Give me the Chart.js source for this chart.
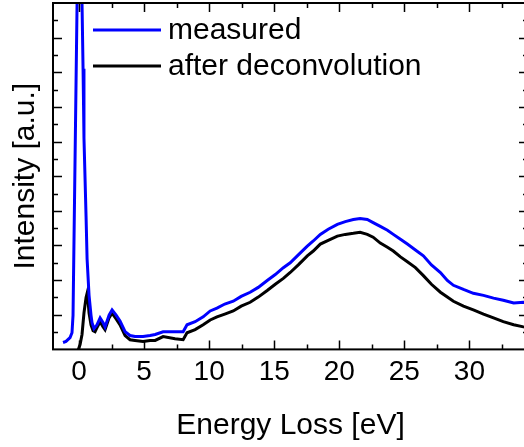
<!DOCTYPE html>
<html>
<head>
<meta charset="UTF-8">
<title>Energy loss spectrum</title>
<script src="https://cdn.jsdelivr.net/npm/chart.js"></script>
<style>
  html, body { margin: 0; padding: 0; background: #fff; overflow: hidden; }
  #wrap { width: 528px; height: 447px; }
</style>
</head>
<body>
<div id="wrap"><canvas id="eels"></canvas></div>
<script>
// energy loss [eV] and intensity [a.u.]
const measuredE = [-1.23, -1.0, -0.69, -0.54, -0.46, -0.15, 0.03, 0.23, 0.31, 0.38, 0.54, 0.62, 0.77, 0.92, 1.0, 1.15, 1.38, 1.62, 1.85, 2.0, 2.31, 2.54, 2.85, 3.15, 3.54, 3.92, 4.3, 4.92, 5.46, 5.85, 6.46, 7.38, 8.0, 8.3, 8.92, 9.54, 10.08, 10.6, 11.2, 11.85, 12.46, 13.15, 13.77, 14.46, 15.08, 15.7, 16.23, 16.85, 17.54, 18.0, 18.54, 19.15, 19.85, 20.46, 21.08, 21.6, 22.15, 22.6, 23.15, 23.7, 24.15, 24.7, 25.23, 25.85, 26.46, 27.08, 27.77, 28.3, 28.77, 29.54, 30.3, 31.08, 31.85, 32.6, 33.4, 34.15, 34.5];
const measuredI = [0.20, 0.23, 0.34, 0.48, 0.99, 10.0, 14.0, 10.0, 8.1, 6.1, 3.84, 2.61, 1.56, 0.99, 0.77, 0.60, 0.71, 0.91, 0.77, 0.65, 0.99, 1.14, 0.99, 0.82, 0.51, 0.40, 0.37, 0.37, 0.40, 0.43, 0.51, 0.51, 0.51, 0.71, 0.80, 0.94, 1.11, 1.19, 1.31, 1.39, 1.53, 1.65, 1.79, 1.99, 2.16, 2.36, 2.50, 2.73, 2.98, 3.13, 3.32, 3.47, 3.61, 3.69, 3.75, 3.78, 3.75, 3.66, 3.55, 3.44, 3.32, 3.18, 3.04, 2.87, 2.70, 2.44, 2.22, 1.99, 1.85, 1.73, 1.62, 1.56, 1.48, 1.42, 1.34, 1.36, 1.35];

const deconvE = [-0.05, 0.08, 0.23, 0.38, 0.54, 0.62, 0.69, 0.77, 0.92, 1.08, 1.23, 1.38, 1.62, 1.85, 2.0, 2.31, 2.54, 2.85, 3.15, 3.54, 3.92, 4.3, 4.92, 5.46, 5.85, 6.46, 7.38, 8.0, 8.3, 8.92, 9.54, 10.08, 10.6, 11.2, 11.85, 12.46, 13.15, 13.77, 14.46, 15.08, 15.7, 16.23, 16.85, 17.54, 18.0, 18.54, 19.15, 19.85, 20.46, 21.08, 21.6, 22.15, 22.6, 23.15, 23.7, 24.15, 24.7, 25.23, 25.85, 26.46, 27.08, 27.77, 28.3, 28.77, 29.54, 30.3, 31.08, 31.85, 32.6, 33.4, 34.15, 34.5];
const deconvI = [0.0, 0.14, 0.43, 1.05, 1.50, 1.62, 1.42, 1.05, 0.71, 0.54, 0.51, 0.63, 0.80, 0.65, 0.57, 0.91, 1.05, 0.88, 0.71, 0.40, 0.28, 0.26, 0.23, 0.26, 0.26, 0.37, 0.31, 0.28, 0.48, 0.57, 0.71, 0.85, 0.94, 1.02, 1.11, 1.25, 1.36, 1.51, 1.70, 1.88, 2.05, 2.22, 2.44, 2.70, 2.84, 3.04, 3.15, 3.27, 3.32, 3.35, 3.38, 3.32, 3.24, 3.07, 2.95, 2.84, 2.67, 2.53, 2.36, 2.13, 1.88, 1.65, 1.51, 1.39, 1.25, 1.14, 1.02, 0.91, 0.80, 0.71, 0.65, 0.63];

const xTicks = [0, 5, 10, 15, 20, 25, 30];
const xMinor = [2.5, 7.5, 12.5, 17.5, 22.5, 27.5, 32.5];
const yTicks = [1, 2, 3, 4, 5, 6, 7, 8, 9];
const yMinor = [0.5, 1.5, 2.5, 3.5, 4.5, 5.5, 6.5, 7.5, 8.5, 9.5];

const FONT = 'Liberation Sans, Arial, sans-serif';

function toPoints(xs, ys) {
  return xs.map((v, i) => ({ x: v, y: ys[i] }));
}

// inward ticks on all four sides plus the frame
const frameTicks = {
  id: 'frameTicks',
  afterDatasetsDraw(chart) {
    const { ctx, chartArea: a, scales: { x, y } } = chart;
    ctx.save();
    ctx.strokeStyle = '#000';
    ctx.lineWidth = 1.5;
    ctx.beginPath();
    xTicks.concat(xMinor).forEach(v => {
      const px = Math.round(x.getPixelForValue(v)) + 0.5;
      const len = xTicks.includes(v) ? 9 : 5;
      ctx.moveTo(px, a.bottom); ctx.lineTo(px, a.bottom - len);
      ctx.moveTo(px, a.top); ctx.lineTo(px, a.top + len);
    });
    yTicks.concat(yMinor).forEach(v => {
      const py = Math.round(y.getPixelForValue(v)) + 0.5;
      const len = yTicks.includes(v) ? 9 : 5;
      ctx.moveTo(a.left, py); ctx.lineTo(a.left + len, py);
      ctx.moveTo(a.right, py); ctx.lineTo(a.right - len, py);
    });
    ctx.stroke();
    ctx.lineWidth = 2;
    ctx.strokeRect(a.left, a.top, a.right - a.left, a.bottom - a.top);
    ctx.restore();
  }
};

// legend sits inside the plot, top left
const insideLegend = {
  id: 'insideLegend',
  afterDraw(chart) {
    const ctx = chart.ctx;
    ctx.save();
    ctx.font = '30px ' + FONT;
    ctx.textBaseline = 'middle';
    ctx.fillStyle = '#000';
    chart.data.datasets.forEach((ds, i) => {
      const yy = 30 + i * 36;
      ctx.strokeStyle = ds.borderColor;
      ctx.lineWidth = 3;
      ctx.beginPath();
      ctx.moveTo(93, yy); ctx.lineTo(161, yy);
      ctx.stroke();
      ctx.fillText(ds.label, 168, yy + 1);
    });
    ctx.restore();
  }
};

new Chart(document.getElementById('eels'), {
  type: 'line',
  data: {
    datasets: [
      { label: 'measured', data: toPoints(measuredE, measuredI), borderColor: '#0000ff', borderWidth: 3, pointRadius: 0, fill: false },
      { label: 'after deconvolution', data: toPoints(deconvE, deconvI), borderColor: '#000000', borderWidth: 3, pointRadius: 0, fill: false }
    ]
  },
  options: {
    responsive: true,
    maintainAspectRatio: false,
    animation: false,
    layout: { padding: { left: 0, right: 0, top: 3, bottom: 2 } },
    plugins: { legend: { display: false }, tooltip: { enabled: false } },
    scales: {
      x: {
        type: 'linear',
        min: -2,
        max: 34.5,
        grid: { display: false, drawTicks: false },
        border: { display: false },
        afterBuildTicks: s => { s.ticks = xTicks.map(v => ({ value: v })); },
        ticks: { color: '#000', padding: 6, autoSkip: false, maxRotation: 0, font: { family: FONT, size: 28 } },
        title: { display: true, text: 'Energy Loss [eV]', color: '#000', padding: { top: 13, bottom: 1 }, font: { family: FONT, size: 30 } }
      },
      y: {
        min: 0,
        max: 10,
        grid: { display: false, drawTicks: false },
        border: { display: false },
        ticks: { display: false },
        title: { display: true, text: 'Intensity [a.u.]', color: '#000', padding: { top: 8, bottom: 9 }, font: { family: FONT, size: 30 } }
      }
    }
  },
  plugins: [frameTicks, insideLegend]
});
</script>
</body>
</html>
